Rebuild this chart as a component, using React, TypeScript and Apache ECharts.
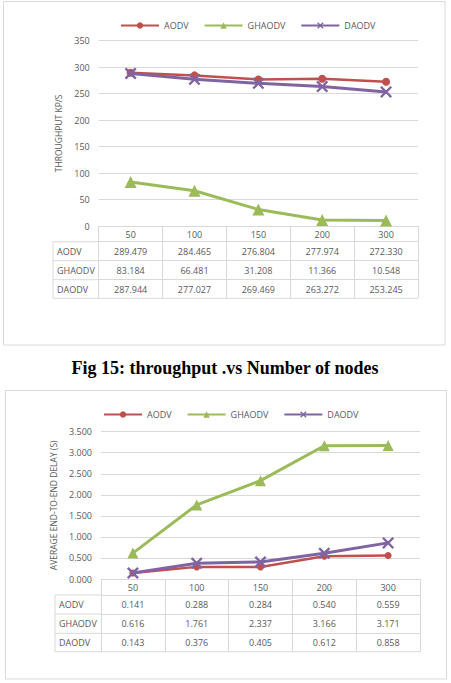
import React, { useEffect, useRef } from "react";
import * as echarts from "echarts";

// Number of nodes (shared category axis / table header)
const nodes = ["50", "100", "150", "200", "300"];
const protocols = ["AODV", "GHAODV", "DAODV"];

// Throughput (kp/s)
const throughputAODV = [289.479, 284.465, 276.804, 277.974, 272.33];
const throughputGHAODV = [83.184, 66.481, 31.208, 11.366, 10.548];
const throughputDAODV = [287.944, 277.027, 269.469, 263.272, 253.245];
const throughputAxis = { max: 350, interval: 50, decimals: 0 };

// Average end-to-end delay (s)
const delayAODV = [0.141, 0.288, 0.284, 0.54, 0.559];
const delayGHAODV = [0.616, 1.761, 2.337, 3.166, 3.171];
const delayDAODV = [0.143, 0.376, 0.405, 0.612, 0.858];
const delayAxis = { max: 3.5, interval: 0.5, decimals: 3 };

const caption = "Fig 15: throughput .vs Number of nodes";

const COLORS = ["#C0504D", "#9BBB59", "#8064A2"];
const GRID_LINE = "#D9D9D9";
const TEXT = "#595959";
const FONT = "Open Sans";
const X_MARK =
  "path://M0,1.4L1.4,0L5,3.6L8.6,0L10,1.4L6.4,5L10,8.6L8.6,10L5,6.4L1.4,10L0,8.6L3.6,5Z";

type Panel = {
  grid: { left: number; top: number; width: number; height: number };
  tableLeft: number;
  rowOffsets: number[]; // tops of AODV/GHAODV/DAODV rows and table bottom, below the axis
  legendLeft: number;
  legendTop: number;
  yName: string;
  nameGap: number;
  axis: { max: number; interval: number; decimals: number };
  data: number[][];
  symbolSizes: number[];
};

const panels: Panel[] = [
  {
    grid: { left: 98.7, top: 40.7, width: 319.3, height: 185.3 },
    tableLeft: 53,
    rowOffsets: [15.7, 34.7, 53.7, 72.3],
    legendLeft: 120,
    legendTop: 21,
    yName: "THROUGHPUT KP/S",
    nameGap: 28,
    axis: throughputAxis,
    data: [throughputAODV, throughputGHAODV, throughputDAODV],
    symbolSizes: [8, 12, 12],
  },
  {
    grid: { left: 101, top: 431.7, width: 319, height: 147.3 },
    tableLeft: 55,
    rowOffsets: [16, 35, 54.3, 72.7],
    legendLeft: 103,
    legendTop: 410,
    yName: "AVERAGE END-TO-END DELAY (S)",
    nameGap: 36,
    axis: delayAxis,
    data: [delayAODV, delayGHAODV, delayDAODV],
    symbolSizes: [7, 11, 12],
  },
];

function buildOption() {
  const grid: any[] = [];
  const xAxis: any[] = [];
  const yAxis: any[] = [];
  const series: any[] = [];
  const legend: any[] = [];
  const graphic: any[] = [];

  const labelStyle = { color: TEXT, fontSize: 9, fontFamily: FONT };

  panels.forEach((p, gi) => {
    const g = p.grid;
    grid.push({ ...g, containLabel: false });
    const bottom = g.top + g.height;
    const right = g.left + g.width;

    // header axis: node counts, ticks run down through the table as column rules
    const headerIndex = xAxis.length;
    xAxis.push({
      gridIndex: gi,
      type: "category",
      data: nodes,
      boundaryGap: true,
      axisLine: { lineStyle: { color: GRID_LINE, width: 1 } },
      axisTick: {
        show: true,
        interval: 0,
        alignWithLabel: false,
        length: p.rowOffsets[3],
        lineStyle: { color: GRID_LINE, width: 1 },
      },
      axisLabel: { ...labelStyle, margin: 4, interval: 0 },
    });

    // one offset axis per table row, labelled with that row's values
    p.data.forEach((vals, ri) => {
      xAxis.push({
        gridIndex: gi,
        type: "category",
        position: "bottom",
        offset: p.rowOffsets[ri],
        data: vals.map((v) => v.toFixed(3)),
        boundaryGap: true,
        axisLine: { show: true, lineStyle: { color: GRID_LINE, width: 1 } },
        axisTick: { show: false },
        axisLabel: { ...labelStyle, margin: 5, interval: 0 },
      });
    });

    yAxis.push({
      gridIndex: gi,
      type: "value",
      min: 0,
      max: p.axis.max,
      interval: p.axis.interval,
      axisLine: { show: false },
      axisTick: { show: false },
      splitLine: { lineStyle: { color: GRID_LINE, width: 1 } },
      axisLabel: {
        ...labelStyle,
        margin: 9,
        formatter: (v: number) => v.toFixed(p.axis.decimals),
      },
      name: p.yName,
      nameLocation: "middle",
      nameRotate: 90,
      nameGap: p.nameGap,
      nameTextStyle: { color: TEXT, fontSize: 8.5, fontFamily: FONT },
    });

    protocols.forEach((name, si) => {
      series.push({
        type: "line",
        name,
        xAxisIndex: headerIndex,
        yAxisIndex: gi,
        data: p.data[si],
        symbol: si === 0 ? "circle" : si === 1 ? "triangle" : X_MARK,
        symbolSize: p.symbolSizes[si],
        showAllSymbol: true,
        lineStyle: { color: COLORS[si], width: si === 0 ? 2.5 : 3 },
        itemStyle: { color: COLORS[si], borderWidth: 0 },
        z: 2 + si,
      });
    });

    legend.push({
      left: p.legendLeft,
      top: p.legendTop,
      padding: 0,
      orient: "horizontal",
      itemWidth: 38,
      itemHeight: 8,
      itemGap: 15,
      textStyle: { ...labelStyle },
      data: protocols,
      selectedMode: false,
    });

    // left column of the data table: row labels and rules
    const rowTops = p.rowOffsets.map((o) => bottom + o);
    rowTops.forEach((y) => {
      graphic.push({
        type: "line",
        shape: { x1: p.tableLeft, y1: y, x2: y === rowTops[3] ? right : g.left, y2: y },
        style: { stroke: GRID_LINE, lineWidth: 1 },
        silent: true,
      });
    });
    graphic.push({
      type: "line",
      shape: { x1: p.tableLeft, y1: rowTops[0], x2: p.tableLeft, y2: rowTops[3] },
      style: { stroke: GRID_LINE, lineWidth: 1 },
      silent: true,
    });
    protocols.forEach((name, ri) => {
      graphic.push({
        type: "text",
        x: p.tableLeft + 4,
        y: (rowTops[ri] + rowTops[ri + 1]) / 2,
        style: {
          text: name,
          fill: TEXT,
          fontSize: 9,
          fontFamily: FONT,
          align: "left",
          verticalAlign: "middle",
        },
        silent: true,
      });
    });
  });

  // chart frames and caption
  graphic.unshift(
    {
      type: "rect",
      shape: { x: 3.5, y: 1.5, width: 441.5, height: 343.5 },
      style: { fill: "#fff", stroke: GRID_LINE, lineWidth: 1 },
      silent: true,
      z: -10,
    },
    {
      type: "rect",
      shape: { x: 5.5, y: 390.5, width: 441, height: 288.5 },
      style: { fill: "#fff", stroke: GRID_LINE, lineWidth: 1 },
      silent: true,
      z: -10,
    },
    {
      type: "text",
      x: 225,
      y: 368,
      style: {
        text: caption,
        fill: "#000",
        fontSize: 18,
        fontWeight: "bold",
        fontFamily: "Liberation Serif",
        align: "center",
        verticalAlign: "middle",
      },
      silent: true,
    }
  );

  return {
    animation: false,
    backgroundColor: "#fff",
    textStyle: { fontFamily: FONT },
    grid,
    xAxis,
    yAxis,
    series,
    legend,
    graphic,
  };
}

export default function App() {
  const ref = useRef<HTMLDivElement>(null);
  useEffect(() => {
    if (!ref.current) return;
    const chart = echarts.init(ref.current, undefined, { renderer: "svg" });
    chart.setOption(buildOption() as any);
    return () => chart.dispose();
  }, []);
  return (
    <div
      ref={ref}
      style={{ position: "absolute", left: 0, top: 0, width: 451, height: 683, background: "#fff" }}
    />
  );
}
